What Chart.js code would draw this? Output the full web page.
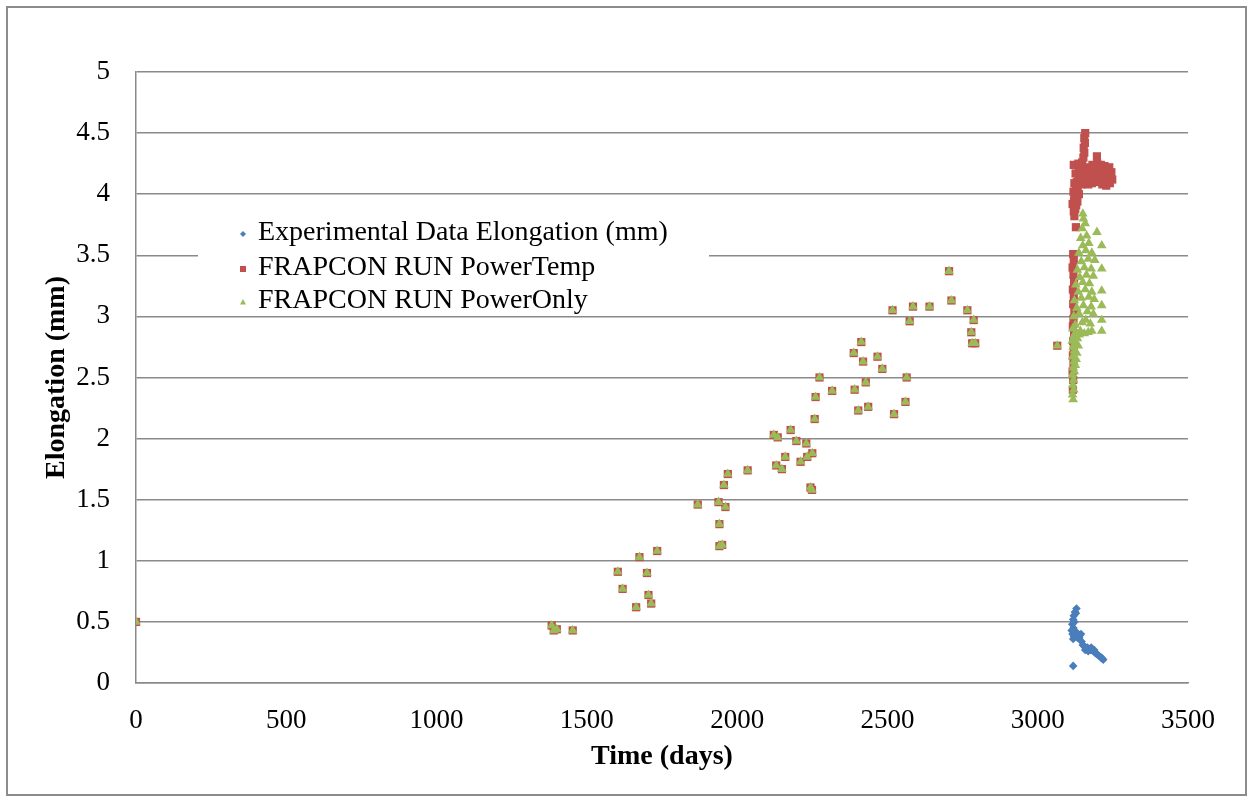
<!DOCTYPE html>
<html>
<head>
<meta charset="utf-8">
<title>Elongation vs Time</title>
<script src="https://cdn.jsdelivr.net/npm/chart.js@4.4.1/dist/chart.umd.min.js"></script>
<style>
  html, body { margin: 0; padding: 0; background: #fff; }
  #wrap { position: relative; width: 1253px; height: 802px; }
</style>
</head>
<body>
<div id="wrap"><canvas id="elongChart"></canvas></div>
<script>
// tick labels
const xTickLabels = ['0', '500', '1000', '1500', '2000', '2500', '3000', '3500'];
const yTickLabels = ['0', '0.5', '1', '1.5', '2', '2.5', '3', '3.5', '4', '4.5', '5'];

// both FRAPCON runs give the same values before ~3100 days
const sharedRunPoints = [
    [0, 0.50], [1383, 0.47], [1390, 0.43], [1400, 0.44], [1453, 0.43],
    [1603, 0.91], [1619, 0.77], [1664, 0.62], [1675, 1.03], [1700, 0.90],
    [1705, 0.72], [1714, 0.65], [1734, 1.08], [1869, 1.46], [1938, 1.48],
    [1941, 1.30], [1941, 1.12], [1950, 1.13], [1956, 1.62], [1961, 1.44],
    [1969, 1.71], [2035, 1.74], [2122, 2.03], [2130, 1.78], [2135, 2.01],
    [2149, 1.75], [2160, 1.85], [2178, 2.07], [2197, 1.98], [2211, 1.81],
    [2230, 1.96], [2233, 1.85], [2244, 1.60], [2249, 1.58], [2250, 1.88],
    [2258, 2.16], [2261, 2.34], [2274, 2.50], [2316, 2.39], [2388, 2.70],
    [2391, 2.40], [2403, 2.23], [2413, 2.79], [2419, 2.63], [2428, 2.46],
    [2436, 2.26], [2467, 2.67], [2483, 2.57], [2522, 2.20], [2517, 3.05],
    [2560, 2.30], [2564, 2.50], [2574, 2.96], [2585, 3.08], [2640, 3.08],
    [2705, 3.37], [2713, 3.13], [2766, 3.05], [2779, 2.87], [2782, 2.78],
    [2787, 2.97], [2792, 2.78], [3065, 2.76]
];

const experimentalPoints = [
    [3118, 0.14], [3113, 0.43], [3115, 0.48], [3118, 0.52], [3120, 0.55],
    [3124, 0.58], [3129, 0.61], [3127, 0.57], [3122, 0.50], [3119, 0.45],
    [3116, 0.40], [3118, 0.36], [3121, 0.38], [3126, 0.42], [3130, 0.41],
    [3135, 0.40], [3140, 0.39], [3144, 0.40], [3138, 0.37], [3132, 0.37],
    [3146, 0.34], [3150, 0.31], [3155, 0.30], [3160, 0.29], [3165, 0.29],
    [3170, 0.28], [3175, 0.27], [3180, 0.27], [3185, 0.26], [3190, 0.25],
    [3195, 0.24], [3200, 0.23], [3205, 0.22], [3210, 0.21], [3215, 0.20],
    [3218, 0.19], [3158, 0.27], [3168, 0.26], [3178, 0.29], [3188, 0.27]
];

const powerTempTail = [
    [3117, 2.40], [3118, 2.48], [3116, 2.55], [3119, 2.62], [3117, 2.68],
    [3120, 2.74], [3118, 2.80], [3121, 2.86], [3117, 2.92], [3119, 2.98],
    [3122, 3.04], [3118, 3.10], [3120, 3.16], [3117, 3.22], [3121, 3.28],
    [3119, 3.34], [3116, 3.40], [3120, 3.46], [3118, 3.51], [3127, 3.73],
    [3122, 3.82], [3120, 3.86], [3125, 3.88], [3128, 3.91], [3121, 3.95],
    [3130, 3.97], [3124, 4.00], [3127, 4.03], [3133, 4.05], [3122, 4.09],
    [3130, 4.10], [3136, 4.12], [3140, 4.14], [3126, 4.17], [3145, 4.18],
    [3150, 4.20], [3120, 4.24], [3135, 4.25], [3142, 4.23], [3148, 4.26],
    [3152, 4.30], [3155, 4.34], [3153, 4.38], [3157, 4.42], [3155, 4.46],
    [3158, 4.50], [3197, 4.31], [3160, 4.22], [3165, 4.17], [3170, 4.12],
    [3175, 4.20], [3180, 4.09], [3185, 4.15], [3190, 4.22], [3195, 4.10],
    [3200, 4.18], [3205, 4.13], [3210, 4.24], [3215, 4.08], [3220, 4.16],
    [3225, 4.11], [3230, 4.20], [3235, 4.14], [3240, 4.09], [3245, 4.18],
    [3248, 4.12], [3238, 4.22], [3228, 4.07], [3212, 4.19], [3198, 4.25],
    [3182, 4.24], [3168, 4.08], [3158, 4.10], [3146, 4.08], [3138, 4.20],
    [3162, 4.14], [3178, 4.16], [3192, 4.13], [3208, 4.10], [3222, 4.23],
    [3243, 4.15], [3116, 3.92], [3119, 4.02], [3132, 3.94], [3137, 4.00]
];

const powerOnlyTail = [
    [3118, 2.32], [3116, 2.36], [3120, 2.40], [3117, 2.44], [3119, 2.48],
    [3115, 2.52], [3122, 2.55], [3118, 2.58], [3125, 2.60], [3120, 2.63],
    [3128, 2.65], [3116, 2.67], [3130, 2.70], [3122, 2.72], [3118, 2.75],
    [3135, 2.76], [3125, 2.78], [3115, 2.80], [3132, 2.82], [3120, 2.84],
    [3138, 2.85], [3127, 2.87], [3117, 2.90], [3142, 2.88], [3155, 2.86],
    [3168, 2.87], [3180, 2.88], [3213, 2.88], [3125, 2.93], [3148, 2.95],
    [3160, 2.97], [3175, 2.94], [3213, 2.97], [3120, 3.00], [3138, 3.02],
    [3165, 3.04], [3185, 3.02], [3130, 3.07], [3152, 3.09], [3178, 3.08],
    [3213, 3.09], [3122, 3.13], [3145, 3.15], [3170, 3.16], [3188, 3.14],
    [3135, 3.20], [3158, 3.22], [3180, 3.20], [3213, 3.21], [3127, 3.26],
    [3150, 3.28], [3172, 3.27], [3140, 3.32], [3162, 3.34], [3185, 3.33],
    [3132, 3.38], [3155, 3.40], [3178, 3.39], [3213, 3.39], [3145, 3.45],
    [3168, 3.47], [3190, 3.46], [3137, 3.52], [3160, 3.54], [3180, 3.52],
    [3213, 3.58], [3150, 3.58], [3170, 3.60], [3143, 3.64], [3163, 3.66],
    [3197, 3.69], [3148, 3.72], [3158, 3.76], [3152, 3.80], [3150, 3.84]
];

const seriesNames = ['Experimental Data Elongation (mm)', 'FRAPCON RUN PowerTemp', 'FRAPCON RUN PowerOnly'];
const seriesColors = ['#4a7ebb', '#c0504d', '#9bbb59'];

const SERIF = "'Liberation Serif', 'DejaVu Serif', serif";
const GRID = '#8a8a8a';

const toXY = arr => arr.map(p => ({ x: p[0], y: p[1] }));

// white page + grey frame around the whole chart
const framePlugin = {
    id: 'frame',
    beforeDraw(chart) {
        const ctx = chart.ctx;
        ctx.save();
        ctx.fillStyle = '#fff';
        ctx.fillRect(0, 0, chart.width, chart.height);
        ctx.strokeStyle = '#8c8c8c';
        ctx.lineWidth = 2;
        ctx.strokeRect(7, 7, 1239, 788);
        ctx.restore();
    }
};

function drawMarker(ctx, style, x, y, r, color) {
    ctx.fillStyle = color;
    ctx.beginPath();
    if (style === 'rectRot') {
        ctx.moveTo(x, y - r); ctx.lineTo(x + r, y); ctx.lineTo(x, y + r); ctx.lineTo(x - r, y);
    } else if (style === 'rect') {
        ctx.rect(x - r, y - r, 2 * r, 2 * r);
    } else {
        ctx.moveTo(x, y - r); ctx.lineTo(x + r, y + r * 0.8); ctx.lineTo(x - r, y + r * 0.8);
    }
    ctx.closePath();
    ctx.fill();
}

// legend box sitting inside the plot, over the grid lines
const insetLegend = {
    id: 'insetLegend',
    afterDatasetsDraw(chart) {
        const ctx = chart.ctx;
        const styles = ['rectRot', 'rect', 'triangle'];
        const rows = [233, 268, 301];
        ctx.save();
        ctx.fillStyle = '#fff';
        ctx.fillRect(198, 215, 511, 100);
        ctx.font = '28px ' + SERIF;
        ctx.textBaseline = 'middle';
        seriesNames.forEach((name, i) => {
            drawMarker(ctx, styles[i], 243, rows[i] + 1, 3, seriesColors[i]);
            ctx.fillStyle = '#000';
            ctx.fillText(name, 258, rows[i]);
        });
        ctx.restore();
    }
};

const ctx = document.getElementById('elongChart').getContext('2d');
new Chart(ctx, {
    type: 'scatter',
    data: {
        datasets: [
            {
                label: seriesNames[0],
                data: toXY(experimentalPoints),
                pointStyle: 'rectRot',
                pointRadius: 4.3,
                backgroundColor: seriesColors[0],
                borderColor: seriesColors[0],
                borderWidth: 0,
                order: 3
            },
            {
                label: seriesNames[1],
                data: toXY(sharedRunPoints.concat(powerTempTail)),
                pointStyle: 'rect',
                pointRadius: 5.8,
                backgroundColor: seriesColors[1],
                borderColor: seriesColors[1],
                borderWidth: 0,
                order: 2
            },
            {
                label: seriesNames[2],
                data: toXY(sharedRunPoints.concat(powerOnlyTail)),
                pointStyle: 'triangle',
                pointRadius: 5.6,
                backgroundColor: seriesColors[2],
                borderColor: seriesColors[2],
                borderWidth: 0,
                order: 1
            }
        ]
    },
    options: {
        responsive: true,
        maintainAspectRatio: false,
        animation: false,
        layout: { padding: { left: 0, top: 72, right: 65, bottom: 0 } },
        plugins: {
            legend: { display: false },
            tooltip: { enabled: false }
        },
        scales: {
            x: {
                type: 'linear',
                min: 0,
                max: 3500,
                afterFit(scale) { scale.height = 119; },
                afterBuildTicks(scale) {
                    scale.ticks = xTickLabels.map(v => ({ value: Number(v) }));
                },
                ticks: {
                    color: '#000',
                    padding: 22,
                    maxRotation: 0,
                    font: { family: SERIF, size: 27 },
                    callback: (v, i) => xTickLabels[i]
                },
                grid: { display: false, drawTicks: false },
                border: { display: true, color: GRID, width: 1.5 },
                title: {
                    display: true,
                    text: 'Time (days)',
                    color: '#000',
                    font: { family: SERIF, size: 28, weight: 'bold', lineHeight: 1.2 },
                    padding: { top: 0, bottom: 28 }
                }
            },
            y: {
                type: 'linear',
                min: 0,
                max: 5,
                afterFit(scale) { scale.width = 136; },
                afterBuildTicks(scale) {
                    scale.ticks = yTickLabels.map(v => ({ value: Number(v) }));
                },
                ticks: {
                    color: '#000',
                    padding: 26,
                    font: { family: SERIF, size: 27 },
                    callback: (v, i) => yTickLabels[i]
                },
                grid: { color: GRID, lineWidth: 1.5, drawTicks: false },
                border: { display: true, color: GRID, width: 1.5 },
                title: {
                    display: true,
                    text: 'Elongation (mm)',
                    color: '#000',
                    font: { family: SERIF, size: 28, weight: 'bold', lineHeight: 1.2 },
                    padding: { top: 40, bottom: 0 }
                }
            }
        }
    },
    plugins: [framePlugin, insetLegend]
});
</script>
</body>
</html>
